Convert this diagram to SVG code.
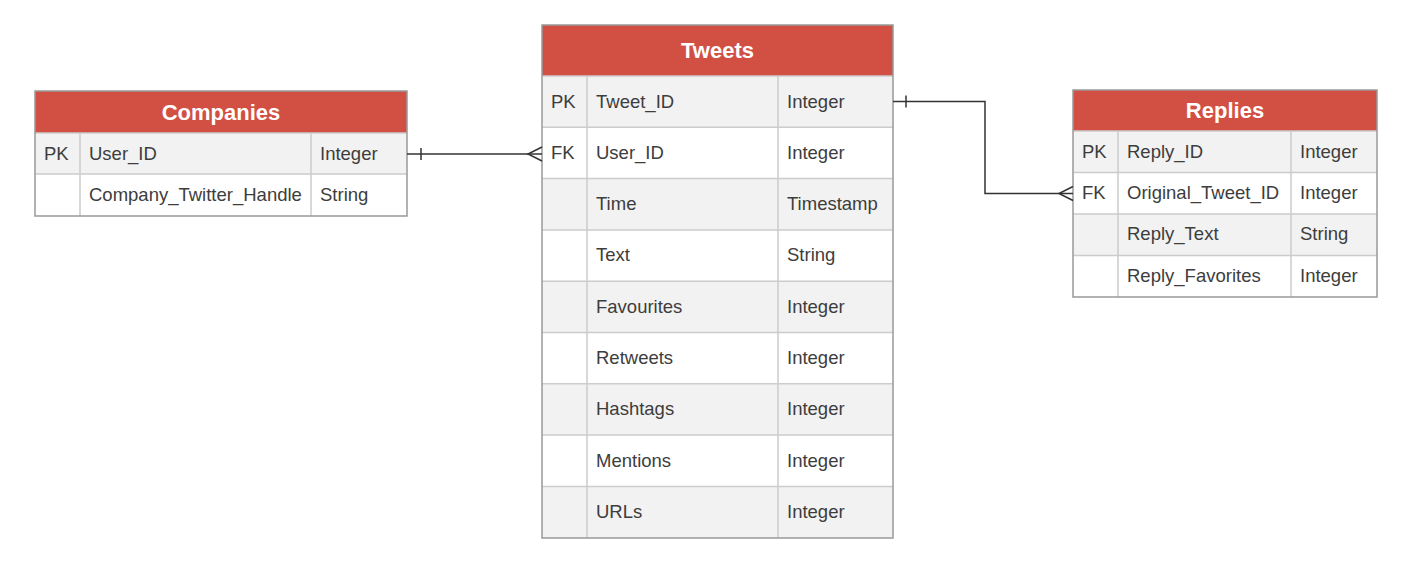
<svg xmlns="http://www.w3.org/2000/svg" width="1405" height="562" viewBox="0 0 1405 562">
<style>
.hdr{fill:#d24f43;}
.g{fill:#f2f2f2;}
.w{fill:#ffffff;}
.in{stroke:#cccccc;stroke-width:1.5;fill:none;}
.out{stroke:#999999;stroke-width:1.5;fill:none;}
.t{font-family:"Liberation Sans",Arial,sans-serif;font-size:18.5px;fill:#3d3d3d;}
.h{font-family:"Liberation Sans",Arial,sans-serif;font-size:22px;font-weight:bold;fill:#ffffff;text-anchor:middle;}
.c{stroke:#333333;stroke-width:1.5;fill:none;}
</style>
<rect width="1405" height="562" fill="#ffffff"/>
<g id="companies">
<rect class="hdr" x="35" y="91" width="372" height="42"/>
<rect class="g" x="35" y="133" width="372" height="41"/>
<rect class="w" x="35" y="174" width="372" height="42"/>
<path class="in" d="M35 133H407M35 174H407M80 133V216M311 133V216"/>
<rect class="out" x="35" y="91" width="372" height="125"/>
<text class="h" x="221" y="120">Companies</text>
<text class="t" x="44" y="160">PK</text><text class="t" x="89" y="160">User_ID</text><text class="t" x="320" y="160">Integer</text>
<text class="t" x="89" y="201">Company_Twitter_Handle</text><text class="t" x="320" y="201">String</text>
</g>
<g id="tweets">
<rect class="hdr" x="542" y="25" width="351" height="51"/>
<rect class="g" x="542" y="76" width="351" height="51.3"/>
<rect class="w" x="542" y="127.3" width="351" height="51.3"/>
<rect class="g" x="542" y="178.6" width="351" height="51.3"/>
<rect class="w" x="542" y="229.9" width="351" height="51.3"/>
<rect class="g" x="542" y="281.2" width="351" height="51.3"/>
<rect class="w" x="542" y="332.5" width="351" height="51.3"/>
<rect class="g" x="542" y="383.8" width="351" height="51.3"/>
<rect class="w" x="542" y="435.1" width="351" height="51.3"/>
<rect class="g" x="542" y="486.4" width="351" height="51.6"/>
<path class="in" d="M542 76H893M542 127.3H893M542 178.6H893M542 229.9H893M542 281.2H893M542 332.5H893M542 383.8H893M542 435.1H893M542 486.4H893M587 76V538M778 76V538"/>
<rect class="out" x="542" y="25" width="351" height="513"/>
<text class="h" x="717.5" y="58">Tweets</text>
<text class="t" x="551" y="108">PK</text><text class="t" x="596" y="108">Tweet_ID</text><text class="t" x="787" y="108">Integer</text>
<text class="t" x="551" y="159">FK</text><text class="t" x="596" y="159">User_ID</text><text class="t" x="787" y="159">Integer</text>
<text class="t" x="596" y="210">Time</text><text class="t" x="787" y="210">Timestamp</text>
<text class="t" x="596" y="261">Text</text><text class="t" x="787" y="261">String</text>
<text class="t" x="596" y="313">Favourites</text><text class="t" x="787" y="313">Integer</text>
<text class="t" x="596" y="364">Retweets</text><text class="t" x="787" y="364">Integer</text>
<text class="t" x="596" y="415">Hashtags</text><text class="t" x="787" y="415">Integer</text>
<text class="t" x="596" y="467">Mentions</text><text class="t" x="787" y="467">Integer</text>
<text class="t" x="596" y="518">URLs</text><text class="t" x="787" y="518">Integer</text>
</g>
<g id="replies">
<rect class="hdr" x="1073" y="90" width="304" height="41"/>
<rect class="g" x="1073" y="131" width="304" height="41.5"/>
<rect class="w" x="1073" y="172.5" width="304" height="41.5"/>
<rect class="g" x="1073" y="214" width="304" height="41.5"/>
<rect class="w" x="1073" y="255.5" width="304" height="41.5"/>
<path class="in" d="M1073 131H1377M1073 172.5H1377M1073 214H1377M1073 255.5H1377M1118 131V297M1291 131V297"/>
<rect class="out" x="1073" y="90" width="304" height="207"/>
<text class="h" x="1225" y="118">Replies</text>
<text class="t" x="1082" y="158">PK</text><text class="t" x="1127" y="158">Reply_ID</text><text class="t" x="1300" y="158">Integer</text>
<text class="t" x="1082" y="199">FK</text><text class="t" x="1127" y="199">Original_Tweet_ID</text><text class="t" x="1300" y="199">Integer</text>
<text class="t" x="1127" y="240">Reply_Text</text><text class="t" x="1300" y="240">String</text>
<text class="t" x="1127" y="282">Reply_Favorites</text><text class="t" x="1300" y="282">Integer</text>
</g>
<g id="connectors">
<path class="c" d="M407 154H542"/>
<path class="c" d="M421 148V160"/>
<path class="c" d="M542 147L528 154L542 161" stroke-width="1"/>
<path class="c" d="M893 101.5H985V193.5H1073"/>
<path class="c" d="M906 95.5V107.5"/>
<path class="c" d="M1073 186.5L1059 193.5L1073 200.5" stroke-width="1"/>
</g>
</svg>
